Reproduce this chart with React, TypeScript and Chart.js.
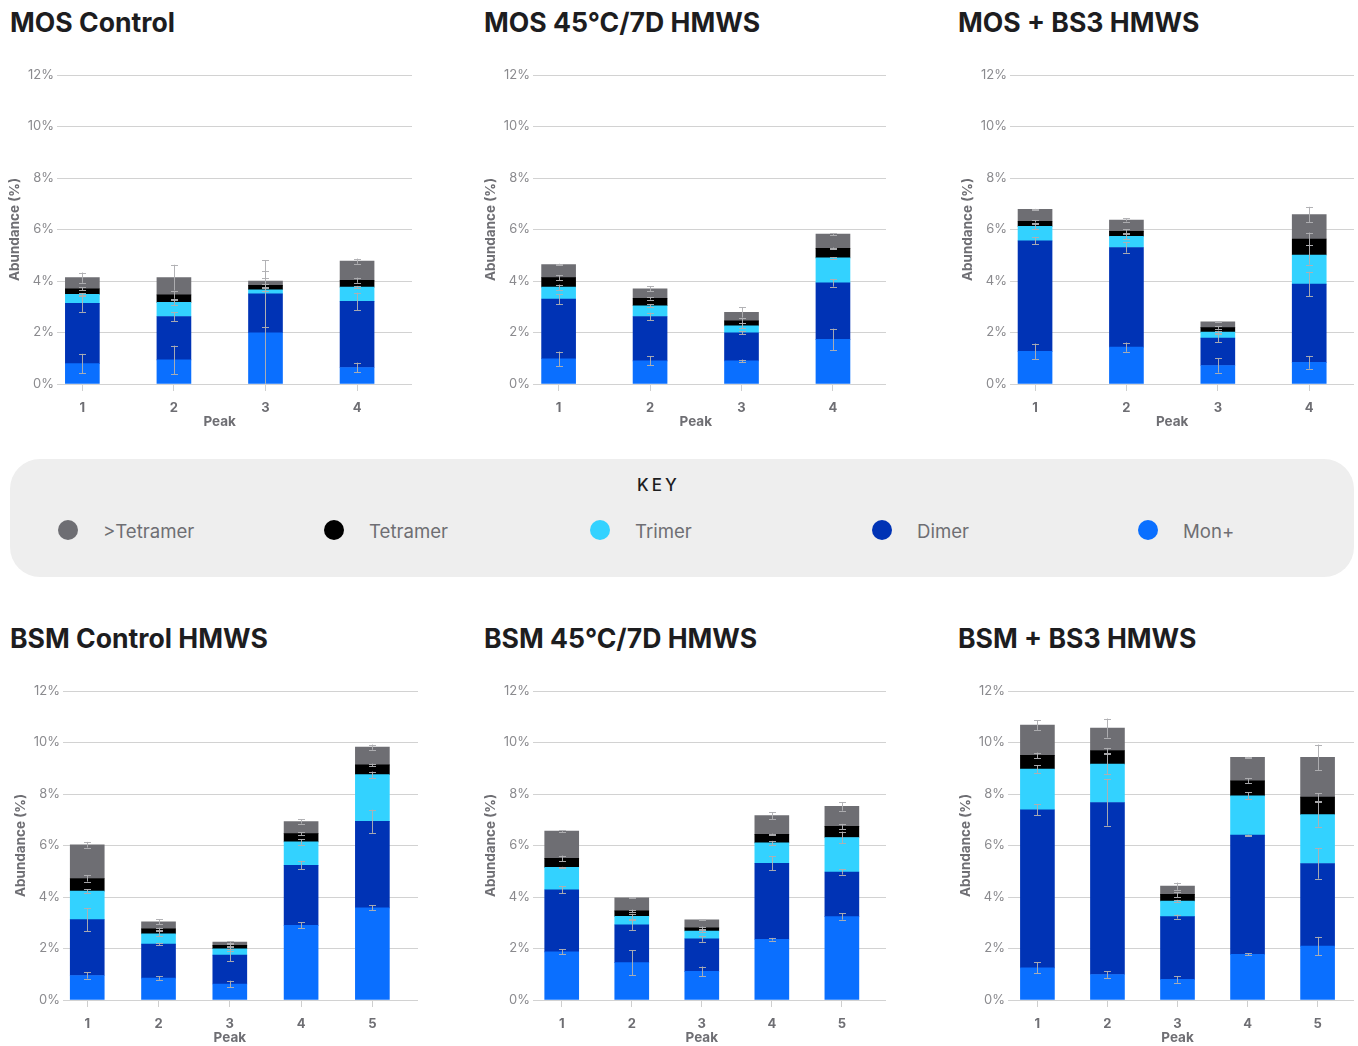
import React, { useEffect, useRef } from 'react';
import { Chart, registerables } from 'chart.js';

Chart.register(...registerables);

// ---------- series ----------
const SERIES_NAMES = ['Mon+', 'Dimer', 'Trimer', 'Tetramer', '>Tetramer'];
const SERIES_COLORS = ['#0a6fff', '#0033b5', '#33d2ff', '#000000', '#6e6e73'];
const LEGEND_ORDER = [4, 3, 2, 1, 0];

// ---------- tick labels ----------
const PEAKS_4 = ['1', '2', '3', '4'];
const PEAKS_5 = ['1', '2', '3', '4', '5'];
const Y_TICKS = [0, 2, 4, 6, 8, 10, 12];

// ---------- MOS Control ----------
const mosCtrlMon = [0.79, 0.94, 1.99, 0.64];
const mosCtrlDimer = [2.34, 1.68, 1.51, 2.57];
const mosCtrlTrimer = [0.35, 0.55, 0.16, 0.55];
const mosCtrlTetramer = [0.22, 0.29, 0.17, 0.27];
const mosCtrlGtTetramer = [0.43, 0.67, 0.17, 0.74];
const mosCtrlMonErr = [0.38, 0.55, 2.4, 0.19];
const mosCtrlDimerErr = [0.33, 0.17, 1.3, 0.34];
const mosCtrlTrimerErr = [0.05, 0.1, 0.05, 0.05];
const mosCtrlTetramerErr = [0.05, 0.15, 0.05, 0.1];
const mosCtrlGtTetramerErr = [0.2, 0.5, 0.1, 0.1];

// ---------- MOS 45°C/7D HMWS ----------
const mos45Mon = [0.98, 0.9, 0.9, 1.73];
const mos45Dimer = [2.32, 1.72, 1.09, 2.2];
const mos45Trimer = [0.46, 0.42, 0.27, 0.97];
const mos45Tetramer = [0.37, 0.29, 0.19, 0.37];
const mos45GtTetramer = [0.51, 0.37, 0.33, 0.55];
const mos45MonErr = [0.28, 0.18, 0.05, 0.42];
const mos45DimerErr = [0.2, 0.15, 0.05, 0.15];
const mos45TrimerErr = [0.1, 0.05, 0.1, 0.03];
const mos45TetramerErr = [0.1, 0.05, 0.1, 0.03];
const mos45GtTetramerErr = [0.03, 0.1, 0.2, 0.03];

// ---------- MOS + BS3 HMWS ----------
const mosBs3Mon = [1.27, 1.43, 0.72, 0.84];
const mosBs3Dimer = [4.29, 3.87, 1.06, 3.04];
const mosBs3Trimer = [0.56, 0.43, 0.24, 1.13];
const mosBs3Tetramer = [0.2, 0.2, 0.17, 0.62];
const mosBs3GtTetramer = [0.46, 0.44, 0.22, 0.95];
const mosBs3MonErr = [0.3, 0.18, 0.28, 0.25];
const mosBs3DimerErr = [0.14, 0.2, 0.15, 0.48];
const mosBs3TrimerErr = [0.1, 0.1, 0.05, 0.37];
const mosBs3TetramerErr = [0.05, 0.08, 0.05, 0.25];
const mosBs3GtTetramerErr = [0.02, 0.06, 0.02, 0.3];

// ---------- BSM Control HMWS ----------
const bsmCtrlMon = [0.95, 0.85, 0.62, 2.9, 3.58];
const bsmCtrlDimer = [2.17, 1.32, 1.12, 2.33, 3.36];
const bsmCtrlTrimer = [1.11, 0.4, 0.25, 0.91, 1.81];
const bsmCtrlTetramer = [0.49, 0.19, 0.13, 0.32, 0.38];
const bsmCtrlGtTetramer = [1.31, 0.28, 0.13, 0.47, 0.69];
const bsmCtrlMonErr = [0.12, 0.07, 0.13, 0.12, 0.1];
const bsmCtrlDimerErr = [0.44, 0.05, 0.23, 0.16, 0.45];
const bsmCtrlTrimerErr = [0.07, 0.1, 0.1, 0.11, 0.12];
const bsmCtrlTetramerErr = [0.12, 0.05, 0.05, 0.05, 0.05];
const bsmCtrlGtTetramerErr = [0.11, 0.1, 0.03, 0.08, 0.1];

// ---------- BSM 45°C/7D HMWS ----------
const bsm45Mon = [1.87, 1.45, 1.11, 2.36, 3.24];
const bsm45Dimer = [2.41, 1.47, 1.27, 2.95, 1.73];
const bsm45Trimer = [0.87, 0.33, 0.3, 0.79, 1.34];
const bsm45Tetramer = [0.35, 0.21, 0.12, 0.33, 0.43];
const bsm45GtTetramer = [1.06, 0.51, 0.31, 0.73, 0.78];
const bsm45MonErr = [0.1, 0.49, 0.19, 0.05, 0.12];
const bsm45DimerErr = [0.14, 0.2, 0.12, 0.28, 0.1];
const bsm45TrimerErr = [0.02, 0.1, 0.05, 0.08, 0.23];
const bsm45TetramerErr = [0.11, 0.05, 0.05, 0.03, 0.1];
const bsm45GtTetramerErr = [0.03, 0.02, 0.02, 0.14, 0.17];

// ---------- BSM + BS3 HMWS ----------
const bsmBs3Mon = [1.25, 0.99, 0.8, 1.77, 2.09];
const bsmBs3Dimer = [6.14, 6.68, 2.44, 4.63, 3.21];
const bsmBs3Trimer = [1.58, 1.49, 0.6, 1.53, 1.9];
const bsmBs3Tetramer = [0.53, 0.53, 0.26, 0.58, 0.68];
const bsmBs3GtTetramer = [1.18, 0.87, 0.32, 0.91, 1.54];
const bsmBs3MonErr = [0.21, 0.13, 0.13, 0.04, 0.36];
const bsmBs3DimerErr = [0.21, 0.9, 0.08, 0.02, 0.59];
const bsmBs3TrimerErr = [0.15, 0.4, 0.05, 0.13, 0.47];
const bsmBs3TetramerErr = [0.11, 0.1, 0.1, 0.1, 0.15];
const bsmBs3GtTetramerErr = [0.19, 0.37, 0.14, 0.02, 0.5];

// ---------- layout (not data) ----------
const FONT = 'Inter, "Noto Sans", Roboto, sans-serif';
const Y_AXIS_W = 58;
const PAD_TOP = 15;
const PLOT_H = 309;
const X_AXIS_H = 50;

type PanelDef = {
  title: string;
  labels: string[];
  values: number[][];
  errors: number[][];
  titleX: number;
  titleY: number;
  plotLeft: number;
  plotRight: number;
  plotTop: number;
  xMin: number;
  xMax: number;
};

const PANELS: PanelDef[] = [
  {
    title: 'MOS Control',
    labels: PEAKS_4,
    values: [mosCtrlMon, mosCtrlDimer, mosCtrlTrimer, mosCtrlTetramer, mosCtrlGtTetramer],
    errors: [mosCtrlMonErr, mosCtrlDimerErr, mosCtrlTrimerErr, mosCtrlTetramerErr, mosCtrlGtTetramerErr],
    titleX: 10, titleY: 22, plotLeft: 57, plotRight: 412, plotTop: 75, xMin: 0.723, xMax: 4.6,
  },
  {
    title: 'MOS 45°C/7D HMWS',
    labels: PEAKS_4,
    values: [mos45Mon, mos45Dimer, mos45Trimer, mos45Tetramer, mos45GtTetramer],
    errors: [mos45MonErr, mos45DimerErr, mos45TrimerErr, mos45TetramerErr, mos45GtTetramerErr],
    titleX: 484, titleY: 22, plotLeft: 533, plotRight: 886, plotTop: 75, xMin: 0.72, xMax: 4.58,
  },
  {
    title: 'MOS + BS3 HMWS',
    labels: PEAKS_4,
    values: [mosBs3Mon, mosBs3Dimer, mosBs3Trimer, mosBs3Tetramer, mosBs3GtTetramer],
    errors: [mosBs3MonErr, mosBs3DimerErr, mosBs3TrimerErr, mosBs3TetramerErr, mosBs3GtTetramerErr],
    titleX: 958, titleY: 22, plotLeft: 1010, plotRight: 1354, plotTop: 75, xMin: 0.726, xMax: 4.49,
  },
  {
    title: 'BSM Control HMWS',
    labels: PEAKS_5,
    values: [bsmCtrlMon, bsmCtrlDimer, bsmCtrlTrimer, bsmCtrlTetramer, bsmCtrlGtTetramer],
    errors: [bsmCtrlMonErr, bsmCtrlDimerErr, bsmCtrlTrimerErr, bsmCtrlTetramerErr, bsmCtrlGtTetramerErr],
    titleX: 10, titleY: 638, plotLeft: 63, plotRight: 418, plotTop: 691, xMin: 0.66, xMax: 5.64,
  },
  {
    title: 'BSM 45°C/7D HMWS',
    labels: PEAKS_5,
    values: [bsm45Mon, bsm45Dimer, bsm45Trimer, bsm45Tetramer, bsm45GtTetramer],
    errors: [bsm45MonErr, bsm45DimerErr, bsm45TrimerErr, bsm45TetramerErr, bsm45GtTetramerErr],
    titleX: 484, titleY: 638, plotLeft: 533, plotRight: 886, plotTop: 691, xMin: 0.59, xMax: 5.63,
  },
  {
    title: 'BSM + BS3 HMWS',
    labels: PEAKS_5,
    values: [bsmBs3Mon, bsmBs3Dimer, bsmBs3Trimer, bsmBs3Tetramer, bsmBs3GtTetramer],
    errors: [bsmBs3MonErr, bsmBs3DimerErr, bsmBs3TrimerErr, bsmBs3TetramerErr, bsmBs3GtTetramerErr],
    titleX: 958, titleY: 638, plotLeft: 1008, plotRight: 1354, plotTop: 691, xMin: 0.58, xMax: 5.52,
  },
];

const LEGEND_X = [68, 334, 600, 882, 1148];

function makeErrorPlugin(values: number[][], errors: number[][]) {
  return {
    id: 'errorBars',
    afterDatasetsDraw(chart: any) {
      const { ctx, chartArea } = chart;
      const ys = chart.scales.y;
      ctx.save();
      ctx.strokeStyle = 'rgba(175,175,178,0.95)';
      ctx.lineWidth = 1;
      values.forEach((_, si) => {
        const meta = chart.getDatasetMeta(si);
        meta.data.forEach((bar: any, i: number) => {
          let cum = 0;
          for (let k = 0; k <= si; k++) cum += values[k][i];
          const e = errors[si][i];
          const yTop = ys.getPixelForValue(cum + e);
          const yBot = Math.min(ys.getPixelForValue(cum - e), chartArea.bottom);
          const x = Math.round(bar.x) + 0.5;
          ctx.beginPath();
          ctx.moveTo(x, yTop);
          ctx.lineTo(x, yBot);
          ctx.moveTo(x - 3.5, Math.round(yTop) + 0.5);
          ctx.lineTo(x + 3.5, Math.round(yTop) + 0.5);
          if (cum - e >= 0) {
            ctx.moveTo(x - 3.5, Math.round(yBot) + 0.5);
            ctx.lineTo(x + 3.5, Math.round(yBot) + 0.5);
          }
          ctx.stroke();
        });
      });
      ctx.restore();
    },
  };
}

function makePeakPlugin(n: number) {
  return {
    id: 'peakTitle',
    afterDraw(chart: any) {
      const { ctx, chartArea } = chart;
      const xs = chart.scales.x;
      const cx = (xs.getPixelForValue(1) + xs.getPixelForValue(n)) / 2;
      ctx.save();
      ctx.font = `bold 13.5px ${FONT}`;
      ctx.fillStyle = '#6e6e73';
      ctx.textAlign = 'center';
      ctx.textBaseline = 'middle';
      ctx.fillText('Peak', cx, chartArea.bottom + 38);
      ctx.restore();
    },
  };
}

function Panel({ p }: { p: PanelDef }) {
  const ref = useRef<HTMLCanvasElement | null>(null);
  const left = p.plotLeft - Y_AXIS_W;
  const top = p.plotTop - PAD_TOP;
  const width = p.plotRight - left;
  const height = PAD_TOP + PLOT_H + X_AXIS_H;

  useEffect(() => {
    if (!ref.current) return;
    const chart = new Chart(ref.current, {
      type: 'bar',
      data: {
        datasets: p.values.map((vals, si) => ({
          label: SERIES_NAMES[si],
          data: vals.map((v, i) => ({ x: i + 1, y: v })),
          backgroundColor: SERIES_COLORS[si],
          borderWidth: 0,
          barThickness: 34,
          stack: 'all',
        })),
      },
      options: {
        animation: false,
        responsive: false,
        maintainAspectRatio: false,
        events: [],
        layout: { padding: { top: PAD_TOP, right: 0, bottom: 0, left: 0 } },
        plugins: { legend: { display: false }, tooltip: { enabled: false } },
        scales: {
          x: {
            type: 'linear',
            stacked: true,
            min: p.xMin,
            max: p.xMax,
            offset: false,
            afterBuildTicks: (scale: any) => {
              scale.ticks = p.labels.map((_, i) => ({ value: i + 1 }));
            },
            afterFit: (scale: any) => {
              scale.height = X_AXIS_H;
            },
            grid: {
              offset: false,
              drawOnChartArea: false,
              drawTicks: true,
              tickLength: 7,
              color: '#cfcfcf',
              lineWidth: 1,
            },
            border: { display: false },
            ticks: {
              autoSkip: false,
              maxRotation: 0,
              padding: 9,
              color: '#6e6e73',
              font: { family: FONT, size: 13, weight: 'bold' },
              callback: (v: any) => p.labels[Math.round(Number(v)) - 1] ?? '',
            },
          },
          y: {
            stacked: true,
            min: 0,
            max: 12,
            afterBuildTicks: (scale: any) => {
              scale.ticks = Y_TICKS.map((v) => ({ value: v }));
            },
            afterFit: (scale: any) => {
              scale.width = Y_AXIS_W;
            },
            grid: { color: '#d2d2d2', lineWidth: 1, drawTicks: false },
            border: { display: false },
            ticks: {
              padding: 3,
              color: '#8a8a8e',
              font: { family: FONT, size: 13 },
              callback: (v: any) => `${v}%`,
            },
            title: {
              display: true,
              text: 'Abundance (%)',
              color: '#6e6e73',
              font: { family: FONT, size: 13.5, weight: 'bold' },
              padding: { top: 8, bottom: 0 },
            },
          },
        },
      } as any,
      plugins: [makeErrorPlugin(p.values, p.errors), makePeakPlugin(p.labels.length)],
    });
    return () => chart.destroy();
  }, []);

  return (
    <>
      <div
        style={{
          position: 'absolute',
          left: p.titleX,
          top: p.titleY - 15,
          height: 30,
          lineHeight: '30px',
          fontSize: 26.6,
          fontWeight: 700,
          color: '#1d1d1f',
          whiteSpace: 'nowrap',
        }}
      >
        {p.title}
      </div>
      <canvas
        ref={ref}
        width={width}
        height={height}
        style={{ position: 'absolute', left, top, width, height }}
      />
    </>
  );
}

function Key() {
  return (
    <div
      style={{
        position: 'absolute',
        left: 10,
        top: 459,
        width: 1344,
        height: 118,
        borderRadius: 30,
        background: '#eeeeee',
      }}
    >
      <div
        style={{
          position: 'absolute',
          left: 627,
          top: 15,
          height: 22,
          lineHeight: '22px',
          fontSize: 17,
          fontWeight: 500,
          letterSpacing: 3,
          color: '#1d1d1f',
        }}
      >
        KEY
      </div>
      {LEGEND_ORDER.map((si, k) => (
        <React.Fragment key={si}>
          <div
            style={{
              position: 'absolute',
              left: LEGEND_X[k] - 10 - 10,
              top: 71 - 10,
              width: 20,
              height: 20,
              borderRadius: 10,
              background: SERIES_COLORS[si],
            }}
          />
          <div
            style={{
              position: 'absolute',
              left: LEGEND_X[k] + 35 - 10,
              top: 72 - 12,
              height: 24,
              lineHeight: '24px',
              fontSize: 18.6,
              color: '#6e6e73',
              whiteSpace: 'nowrap',
            }}
          >
            {SERIES_NAMES[si]}
          </div>
        </React.Fragment>
      ))}
    </div>
  );
}

export default function App() {
  return (
    <div
      style={{
        position: 'absolute',
        left: 0,
        top: 0,
        width: 1358,
        height: 1046,
        overflow: 'hidden',
        background: '#ffffff',
        fontFamily: FONT,
      }}
    >
      {PANELS.map((p) => (
        <Panel key={p.title} p={p} />
      ))}
      <Key />
    </div>
  );
}
